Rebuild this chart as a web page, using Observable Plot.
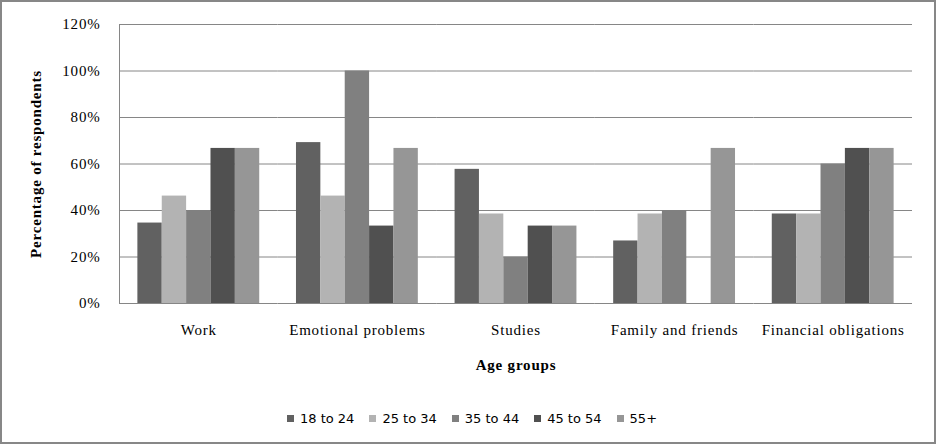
<!DOCTYPE html>
<html>
<head>
<meta charset="utf-8">
<script src="https://cdn.jsdelivr.net/npm/d3@7"></script>
<script src="https://cdn.jsdelivr.net/npm/@observablehq/plot@0.6"></script>
<style>
  html, body { margin: 0; padding: 0; background: #fff; }
  #frame { position: relative; width: 936px; height: 444px; box-sizing: border-box; border: 2px solid #878787; background: #fff; overflow: hidden; }
  #chart svg { display: block; }
  #legend { display: flex; justify-content: center; align-items: center; height: 48px; padding-top: 4px; box-sizing: border-box; font-family: "DejaVu Sans", sans-serif; font-size: 13px; color: #000; padding-left: 8px; }
  .item { display: flex; align-items: center; margin: 0 7.5px; }
  .sw { width: 7px; height: 7px; margin-right: 6px; }
</style>
</head>
<body>
<div id="frame">
  <div id="chart"></div>
  <div id="legend"></div>
</div>
<script>
const categories = ["Work", "Emotional problems", "Studies", "Family and friends", "Financial obligations"];
const ageGroups = ["18 to 24", "25 to 34", "35 to 44", "45 to 54", "55+"];
const age18to24 = [0.346, 0.692, 0.577, 0.269, 0.385];
const age25to34 = [0.462, 0.462, 0.385, 0.385, 0.385];
const age35to44 = [0.40, 1.00, 0.20, 0.40, 0.60];
const age45to54 = [0.667, 0.333, 0.333, null, 0.667];
const age55plus = [0.667, 0.667, 0.333, 0.667, 0.667];
const yTicks = [0, 0.2, 0.4, 0.6, 0.8, 1.0, 1.2];
const colors = ["#616161", "#b3b3b3", "#808080", "#505050", "#969696"];

const seriesValues = [age18to24, age25to34, age35to44, age45to54, age55plus];
const data = [];
categories.forEach((c, i) => {
  ageGroups.forEach((g, j) => {
    const v = seriesValues[j][i];
    if (v != null) data.push({category: c, group: g, value: v});
  });
});

const chart = Plot.plot({
  width: 932,
  height: 390,
  marginLeft: 117,
  marginRight: 22,
  marginTop: 22,
  marginBottom: 89,
  style: {fontFamily: "'Liberation Serif', serif", fontSize: "15px", letterSpacing: "0.8px", color: "#000", background: "#fff"},
  fx: {domain: categories, padding: 0, round: false, label: null},
  x: {domain: ageGroups, paddingInner: 0, paddingOuter: 0.754, round: false, axis: null},
  y: {domain: [0, 1.2], axis: null},
  color: {domain: ageGroups, range: colors},
  marks: [
    Plot.ruleY(yTicks, {stroke: "#868686", strokeWidth: 1}),
    Plot.barY(data, {fx: "category", x: "group", y: "value", fill: "group"}),
    Plot.frame({anchor: "left", stroke: "#868686", facet: "super"}),
    Plot.axisY({ticks: yTicks, tickFormat: d3.format(".0%"), tickSize: 0, tickPadding: 19, fontSize: 15,
      label: "Percentage of respondents", labelAnchor: "center", labelArrow: "none", labelOffset: 89}),
    Plot.axisFx({anchor: "bottom", tickSize: 0, tickPadding: 21, fontSize: 15, label: null}),
    Plot.text(["Age groups"], {frameAnchor: "bottom", dy: 66, facet: "super", fontWeight: "bold", fontSize: 15, fill: "#000"})
  ]
});
document.getElementById("chart").appendChild(chart);

chart.querySelectorAll("text").forEach(t => {
  if (t.textContent === "Percentage of respondents") t.setAttribute("font-weight", "bold");
});

const legend = document.getElementById("legend");
ageGroups.forEach((g, i) => {
  const it = document.createElement("div");
  it.className = "item";
  const sw = document.createElement("span");
  sw.className = "sw";
  sw.style.background = colors[i];
  const tx = document.createElement("span");
  tx.textContent = g;
  it.appendChild(sw);
  it.appendChild(tx);
  legend.appendChild(it);
});
</script>
</body>
</html>
